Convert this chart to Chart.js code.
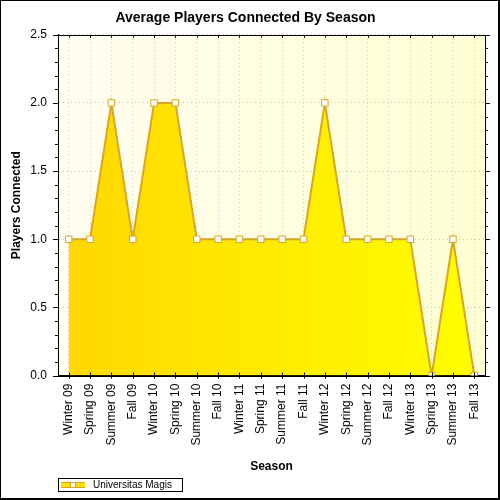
<!DOCTYPE html>
<html>
<head>
<meta charset="utf-8">
<script src="https://cdn.jsdelivr.net/npm/chart.js@4.4.1/dist/chart.umd.min.js"></script>
<style>
  html, body { margin: 0; padding: 0; background: #fff; }
  #chart { display: block; }
</style>
</head>
<body>
<canvas id="chart" width="500" height="500"></canvas>
<script>
// chart data
const seasons = ['Winter 09', 'Spring 09', 'Summer 09', 'Fall 09', 'Winter 10', 'Spring 10', 'Summer 10', 'Fall 10',
    'Winter 11', 'Spring 11', 'Summer 11', 'Fall 11', 'Winter 12', 'Spring 12', 'Summer 12', 'Fall 12',
    'Winter 13', 'Spring 13', 'Summer 13', 'Fall 13'];
const playersConnected = [1, 1, 2, 1, 2, 2, 1, 1, 1, 1, 1, 1, 2, 1, 1, 1, 1, 0, 1, 0];
const seriesName = 'Universitas Magis';
const yMin = 0, yMax = 2.5, yStep = 0.5, yMinorStep = 0.1;

const FONT = "'Liberation Sans', Arial, sans-serif";
const GOLD = '#daa520';

// legend symbol: thick yellow line with a white square marker
// (canvas is wider than the legend box so the symbol starts a little left of it)
function legendSymbol() {
    const c = document.createElement('canvas');
    c.width = 30; c.height = 8;
    const g = c.getContext('2d');
    g.fillStyle = GOLD;
    g.fillRect(0, 1, 24, 6);
    g.fillStyle = '#ffe000';
    g.fillRect(0, 2, 24, 4);
    g.fillStyle = '#fff';
    g.strokeStyle = GOLD;
    g.lineWidth = 1;
    g.fillRect(9, 1, 6, 6);
    g.strokeRect(9.5, 1.5, 5, 5);
    return c;
}

// background, frame, tick marks, legend box
const decorations = {
    id: 'decorations',
    beforeDraw(chart) {
        const { ctx, chartArea: a } = chart;
        ctx.save();
        ctx.fillStyle = '#fff';
        ctx.fillRect(0, 0, chart.width, chart.height);
        const bg = ctx.createLinearGradient(a.left, a.top, a.right, a.top);
        bg.addColorStop(0, '#fffdf0');
        bg.addColorStop(1, '#ffffd2');
        ctx.fillStyle = bg;
        ctx.fillRect(a.left, a.top, a.right - a.left, a.bottom - a.top);
        ctx.restore();
    },
    afterDraw(chart) {
        const { ctx, chartArea: a } = chart;
        const x = chart.scales.x, y = chart.scales.y;
        ctx.save();
        ctx.strokeStyle = '#000';
        ctx.lineWidth = 1;
        ctx.strokeRect(Math.round(a.left) + 0.5, Math.round(a.top) + 0.5,
            Math.round(a.right - a.left), Math.round(a.bottom - a.top));
        ctx.beginPath();
        // y ticks: left and right, outward
        for (let v = yMin; v <= yMax + 1e-9; v += yMinorStep) {
            const major = Math.abs(v / yStep - Math.round(v / yStep)) < 1e-6;
            const py = Math.round(y.getPixelForValue(v)) + 0.5;
            const len = major ? 5 : 3;
            ctx.moveTo(a.left, py); ctx.lineTo(a.left - len, py);
            ctx.moveTo(a.right, py); ctx.lineTo(a.right + len, py);
        }
        // x ticks: bottom (crossing) and top (inward)
        seasons.forEach((s, i) => {
            const px = Math.round(x.getPixelForValue(i)) + 0.5;
            ctx.moveTo(px, a.bottom - 3); ctx.lineTo(px, a.bottom + 3);
            ctx.moveTo(px, a.top); ctx.lineTo(px, a.top + 3);
        });
        ctx.stroke();
        // legend frame
        const hb = chart.legend.legendHitBoxes && chart.legend.legendHitBoxes[0];
        if (hb) {
            ctx.strokeRect(Math.round(hb.left) - 5.5, Math.round(hb.top + hb.height / 2) - 6.5,
                Math.round(hb.width) + 16, 13);
        }
        // outer frame
        ctx.fillStyle = '#000';
        ctx.fillRect(0, 0, chart.width, 1);
        ctx.fillRect(0, 0, 1, chart.height);
        ctx.fillRect(chart.width - 2, 0, 2, chart.height);
        ctx.fillRect(0, chart.height - 2, chart.width, 2);
        ctx.restore();
    }
};

new Chart(document.getElementById('chart'), {
    type: 'line',
    data: {
        labels: seasons,
        datasets: [{
            label: seriesName,
            data: playersConnected,
            borderColor: GOLD,
            borderWidth: 2,
            tension: 0,
            fill: 'origin',
            backgroundColor: (ctx) => {
                const a = ctx.chart.chartArea;
                if (!a) return '#ffe800';
                const g = ctx.chart.ctx.createLinearGradient(a.left, a.top, a.right, a.top);
                g.addColorStop(0, '#ffd700');
                g.addColorStop(1, '#ffff00');
                return g;
            },
            pointStyle: 'rect',
            pointRadius: 4.6,
            pointBackgroundColor: '#fff',
            pointBorderColor: GOLD,
            pointBorderWidth: 1
        }]
    },
    options: {
        responsive: false,
        animation: false,
        layout: { padding: { left: 6, right: 15, top: 4, bottom: 0 } },
        plugins: {
            title: {
                display: true,
                text: 'Average Players Connected By Season',
                color: '#000',
                font: { family: FONT, size: 14, weight: 'bold' },
                padding: { top: 6, bottom: 8 }
            },
            legend: {
                position: 'bottom',
                align: 'start',
                fullSize: false,
                labels: {
                    color: '#000',
                    font: { family: FONT, size: 10 },
                    usePointStyle: true,
                    pointStyleWidth: 24,
                    boxHeight: 8,
                    padding: 6,
                    generateLabels: () => [{
                        text: seriesName,
                        pointStyle: legendSymbol(),
                        fillStyle: '#ffe600',
                        strokeStyle: GOLD,
                        lineWidth: 0,
                        datasetIndex: 0
                    }]
                }
            },
            tooltip: { enabled: false }
        },
        scales: {
            x: {
                offset: true,
                grid: {
                    offset: false,
                    color: '#c8c8c8',
                    drawTicks: false,
                    lineWidth: 1
                },
                border: { display: true, color: '#000', dash: [1, 3] },
                ticks: {
                    color: '#000',
                    font: { family: FONT, size: 12 },
                    minRotation: 90,
                    maxRotation: 90,
                    autoSkip: false,
                    padding: 8
                },
                title: {
                    display: true,
                    text: 'Season',
                    color: '#000',
                    font: { family: FONT, size: 12, weight: 'bold' },
                    padding: { top: 6, bottom: 0 }
                }
            },
            y: {
                min: yMin,
                max: yMax,
                afterFit: (scale) => { scale.width = 52; },
                grid: {
                    color: '#c8c8c8',
                    drawTicks: false
                },
                border: { display: true, color: '#000', dash: [1, 3] },
                ticks: {
                    stepSize: yStep,
                    color: '#000',
                    font: { family: FONT, size: 12 },
                    padding: 11,
                    callback: (v) => Number(v).toFixed(1)
                },
                title: {
                    display: true,
                    text: 'Players Connected',
                    color: '#000',
                    font: { family: FONT, size: 12, weight: 'bold' },
                    padding: { top: 3, bottom: 0 }
                }
            }
        }
    },
    plugins: [decorations]
});
</script>
</body>
</html>
